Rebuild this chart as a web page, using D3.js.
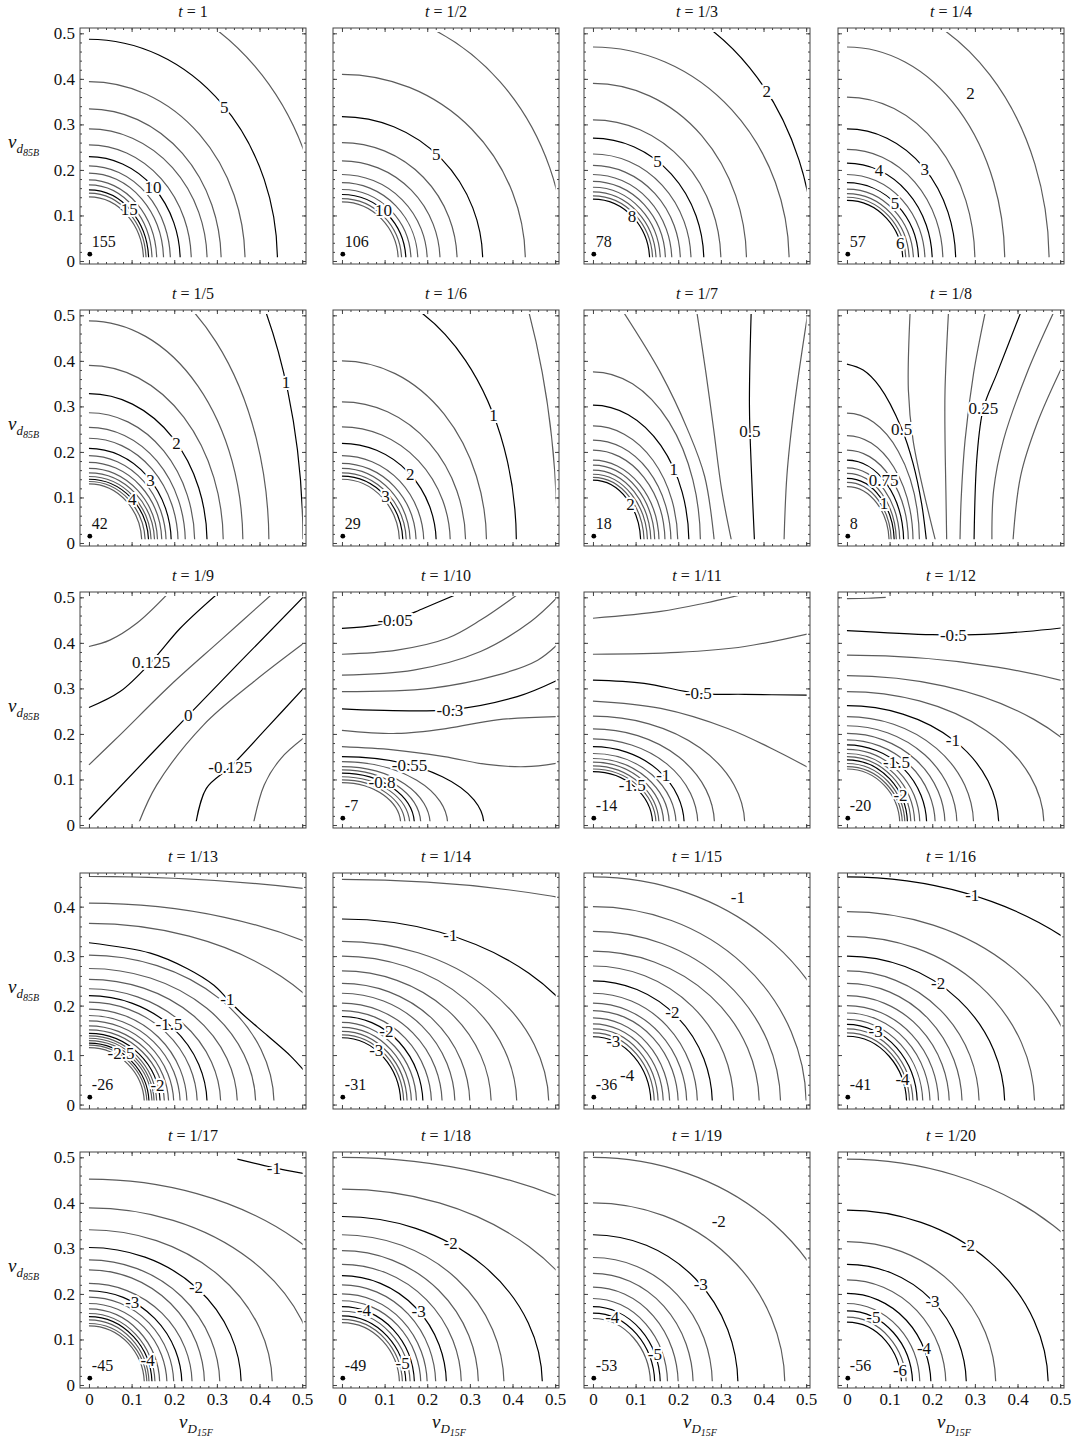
<!DOCTYPE html>
<html>
<head>
<meta charset="utf-8">
<script src="https://cdn.jsdelivr.net/npm/d3@7"></script>
<style>
  body { margin: 0; background: #fff; }
  text { font-family: "Liberation Serif", "Times New Roman", serif; fill: #111; }
</style>
</head>
<body>
<svg id="chart" width="1079" height="1446"></svg>
<script>
// panel titles (t values)
const titles = ["1", "1/2", "1/3", "1/4", "1/5", "1/6", "1/7", "1/8", "1/9", "1/10",
  "1/11", "1/12", "1/13", "1/14", "1/15", "1/16", "1/17", "1/18", "1/19", "1/20"];

// value printed next to the marked point near the origin
const peakValues = ["155", "106", "78", "57", "42", "29", "18", "8", null, "-7",
  "-14", "-20", "-26", "-31", "-36", "-41", "-45", "-49", "-53", "-56"];
const peakPoint = [0.002, 0.015];

// tick labels
const xTicks = [0, 0.1, 0.2, 0.3, 0.4, 0.5];
const yTicks = [0, 0.1, 0.2, 0.3, 0.4, 0.5];
const yTicksShort = [0, 0.1, 0.2, 0.3, 0.4];

// contour lines shaped like quarter ellipses: [x-intercept, y-intercept]
const arcs = [
  [[0.55, 0.605], [0.442, 0.487], [0.366, 0.394], [0.310, 0.334], [0.277, 0.290], [0.240, 0.255], [0.214, 0.229],
   [0.191, 0.209], [0.175, 0.193], [0.159, 0.178], [0.148, 0.167], [0.140, 0.156], [0.134, 0.149], [0.128, 0.141]],
  [[0.524, 0.557], [0.43, 0.41], [0.33, 0.317], [0.27, 0.26], [0.23, 0.22], [0.2, 0.19], [0.178, 0.172],
   [0.162, 0.157], [0.15, 0.146], [0.14, 0.137], [0.132, 0.13]],
  [[0.52, 0.6], [0.46, 0.47], [0.36, 0.39], [0.3, 0.31], [0.26, 0.27], [0.23, 0.235], [0.205, 0.21], [0.185, 0.19],
   [0.17, 0.175], [0.158, 0.162], [0.148, 0.152], [0.14, 0.143], [0.133, 0.136]],
  [[0.474, 0.578], [0.37, 0.47], [0.3, 0.36], [0.255, 0.29], [0.225, 0.245], [0.2, 0.215], [0.183, 0.19],
   [0.168, 0.172], [0.156, 0.158], [0.146, 0.148], [0.138, 0.14], [0.131, 0.133]],
  [[0.502, 0.90], [0.422, 0.624], [0.361, 0.488], [0.315, 0.390], [0.277, 0.328], [0.248, 0.286], [0.226, 0.254],
   [0.209, 0.230], [0.193, 0.208], [0.181, 0.192], [0.171, 0.177], [0.161, 0.164], [0.154, 0.154], [0.146, 0.146],
   [0.140, 0.140], [0.132, 0.135], [0.124, 0.130]],
  [[0.505, 1.02], [0.409, 0.568], [0.339, 0.400], [0.290, 0.310], [0.254, 0.255], [0.221, 0.219], [0.192, 0.192],
   [0.174, 0.175], [0.160, 0.164], [0.151, 0.154], [0.143, 0.147], [0.135, 0.140]],
  [[0.252, 0.376], [0.225, 0.303], [0.199, 0.257], [0.183, 0.226], [0.169, 0.204], [0.155, 0.182], [0.145, 0.171],
   [0.136, 0.160], [0.128, 0.151], [0.120, 0.144], [0.112, 0.138]],
  [[0.170, 0.285], [0.155, 0.236], [0.144, 0.204], [0.133, 0.182], [0.124, 0.165], [0.116, 0.153], [0.111, 0.142],
   [0.104, 0.133], [0.099, 0.124]],
  [],
  [[0.333, 0.150], [0.248, 0.139], [0.207, 0.128], [0.185, 0.121], [0.170, 0.114], [0.159, 0.106], [0.148, 0.099],
   [0.138, 0.093]],
  [[0.356, 0.239], [0.285, 0.211], [0.246, 0.189], [0.214, 0.172], [0.195, 0.157], [0.179, 0.146], [0.166, 0.138],
   [0.155, 0.130], [0.148, 0.123], [0.140, 0.117]],
  [[0.957, 0.373], [0.62, 0.328], [0.462, 0.293], [0.356, 0.262], [0.297, 0.238], [0.258, 0.218], [0.230, 0.201],
   [0.207, 0.187], [0.187, 0.176], [0.171, 0.166], [0.159, 0.157], [0.150, 0.150], [0.142, 0.143], [0.136, 0.135],
   [0.130, 0.128], [0.124, 0.123]],
  [[1.57, 0.461], [0.864, 0.407], [0.638, 0.366], [0.434, 0.302], [0.391, 0.275], [0.348, 0.253], [0.309, 0.234],
   [0.277, 0.220], [0.254, 0.207], [0.230, 0.193], [0.214, 0.180], [0.199, 0.169], [0.187, 0.159], [0.177, 0.151],
   [0.167, 0.144], [0.159, 0.139], [0.153, 0.134], [0.148, 0.129], [0.141, 0.124], [0.136, 0.120], [0.130, 0.115]],
  [[1.3, 0.455], [0.62, 0.375], [0.485, 0.33], [0.41, 0.3], [0.35, 0.27], [0.30, 0.245], [0.265, 0.225],
   [0.235, 0.205], [0.21, 0.19], [0.19, 0.178], [0.175, 0.166], [0.163, 0.156], [0.153, 0.148], [0.145, 0.141],
   [0.138, 0.135]],
  [[0.6, 0.46], [0.5, 0.4], [0.44, 0.35], [0.39, 0.31], [0.33, 0.28], [0.28, 0.25], [0.245, 0.225], [0.22, 0.205],
   [0.2, 0.19], [0.18, 0.175], [0.165, 0.163], [0.153, 0.153], [0.144, 0.145], [0.136, 0.137]],
  [[0.75, 0.46], [0.55, 0.39], [0.44, 0.34], [0.37, 0.3], [0.31, 0.27], [0.27, 0.245], [0.24, 0.22], [0.215, 0.2],
   [0.195, 0.185], [0.178, 0.172], [0.165, 0.162], [0.155, 0.153], [0.147, 0.145], [0.14, 0.138]],
  [[0.687, 0.452], [0.536, 0.389], [0.430, 0.341], [0.357, 0.302], [0.307, 0.275], [0.271, 0.253], [0.242, 0.223],
   [0.218, 0.207], [0.199, 0.193], [0.183, 0.179], [0.166, 0.167], [0.155, 0.157], [0.148, 0.150], [0.141, 0.143],
   [0.136, 0.135], [0.130, 0.130]],
  [[0.9, 0.5], [0.62, 0.43], [0.47, 0.37], [0.38, 0.33], [0.32, 0.295], [0.28, 0.265], [0.245, 0.24], [0.22, 0.22],
   [0.2, 0.2], [0.185, 0.185], [0.17, 0.172], [0.16, 0.162], [0.15, 0.152], [0.142, 0.144], [0.135, 0.137]],
  [[0.6, 0.5], [0.45, 0.4], [0.34, 0.33], [0.28, 0.28], [0.235, 0.245], [0.2, 0.215], [0.175, 0.19], [0.158, 0.172],
   [0.145, 0.158], [0.135, 0.146]],
  [[0.683, 0.496], [0.472, 0.384], [0.349, 0.315], [0.280, 0.265], [0.232, 0.231], [0.197, 0.201], [0.171, 0.179],
   [0.154, 0.163], [0.139, 0.149], [0.128, 0.138]]
];

// free-form contour lines: lists of [x, y] points
const curves = [
  [], [], [], [], [], [],
  [[[0.073, 0.505], [0.159, 0.373], [0.222, 0.249], [0.262, 0.146], [0.285, 0.0]],
   [[0.244, 0.505], [0.265, 0.373], [0.283, 0.25], [0.302, 0.116], [0.326, 0.0]],
   [[0.371, 0.505], [0.367, 0.3], [0.372, 0.15], [0.379, 0.0]],
   [[0.503, 0.5], [0.472, 0.3], [0.455, 0.15], [0.448, 0.0]]],
  [[[0.0, 0.393], [0.038, 0.38], [0.077, 0.343], [0.128, 0.252], [0.155, 0.175], [0.175, 0.087], [0.187, 0.0]],
   [[0.148, 0.505], [0.144, 0.336], [0.155, 0.226], [0.179, 0.116], [0.209, 0.0]],
   [[0.238, 0.505], [0.230, 0.336], [0.230, 0.226], [0.232, 0.116], [0.234, 0.0]],
   [[0.324, 0.505], [0.297, 0.373], [0.277, 0.226], [0.268, 0.1], [0.265, 0.0]],
   [[0.407, 0.505], [0.352, 0.373], [0.320, 0.296], [0.305, 0.19], [0.298, 0.0]],
   [[0.484, 0.505], [0.422, 0.373], [0.367, 0.226], [0.344, 0.116], [0.340, 0.0]],
   [[0.505, 0.388], [0.446, 0.263], [0.407, 0.146], [0.389, 0.0]]],
  [[[0.0, 0.392], [0.049, 0.406], [0.112, 0.443], [0.182, 0.505]],
   [[0.0, 0.258], [0.073, 0.293], [0.147, 0.359], [0.214, 0.432], [0.298, 0.505]],
   [[0.0, 0.132], [0.073, 0.198], [0.191, 0.307], [0.309, 0.406], [0.427, 0.505]],
   [[0.0, 0.012], [0.234, 0.242], [0.505, 0.503]],
   [[0.115, 0.0], [0.159, 0.088], [0.269, 0.22], [0.387, 0.315], [0.505, 0.4]],
   [[0.250, 0.0], [0.275, 0.08], [0.332, 0.128], [0.419, 0.215], [0.505, 0.302]],
   [[0.385, 0.0], [0.411, 0.088], [0.45, 0.146], [0.505, 0.192]]],
  [[[0.0, 0.432], [0.082, 0.439], [0.125, 0.45], [0.192, 0.476], [0.265, 0.505]],
   [[0.0, 0.375], [0.129, 0.384], [0.247, 0.41], [0.325, 0.45], [0.41, 0.505]],
   [[0.0, 0.329], [0.168, 0.34], [0.325, 0.381], [0.443, 0.447], [0.505, 0.5]],
   [[0.0, 0.293], [0.207, 0.30], [0.364, 0.329], [0.459, 0.362], [0.505, 0.396]],
   [[0.0, 0.255], [0.254, 0.253], [0.411, 0.282], [0.505, 0.318]],
   [[0.0, 0.208], [0.129, 0.201], [0.247, 0.212], [0.364, 0.231], [0.505, 0.238]],
   [[0.0, 0.172], [0.12, 0.165], [0.24, 0.15], [0.34, 0.133], [0.43, 0.128], [0.505, 0.136]]],
  [[[0.0, 0.454], [0.159, 0.469], [0.261, 0.487], [0.345, 0.505]],
   [[0.0, 0.375], [0.199, 0.379], [0.356, 0.392], [0.505, 0.42]],
   [[0.0, 0.318], [0.12, 0.311], [0.246, 0.289], [0.356, 0.287], [0.505, 0.285]],
   [[0.0, 0.272], [0.159, 0.256], [0.316, 0.212], [0.434, 0.161], [0.505, 0.126]]],
  [[[0.0, 0.497], [0.05, 0.498], [0.091, 0.5]],
   [[0.0, 0.427], [0.2, 0.418], [0.3, 0.418], [0.42, 0.425], [0.505, 0.433]]],
  [[[0.0, 0.327], [0.144, 0.306], [0.23, 0.275], [0.293, 0.241], [0.324, 0.214], [0.356, 0.186], [0.419, 0.139],
    [0.473, 0.098], [0.505, 0.068]]],
  [], [], [],
  [[[0.348, 0.496], [0.43, 0.478], [0.505, 0.464]]],
  [], [], []
];

// contour labels: [x, y, text]
const contourLabels = [
  [[0.309, 0.332, "5"], [0.148, 0.160, "10"], [0.095, 0.114, "15"]],
  [[0.21, 0.222, "5"], [0.1, 0.112, "10"]],
  [[0.40, 0.369, "2"], [0.155, 0.222, "5"], [0.087, 0.095, "8"]],
  [[0.29, 0.369, "2"], [0.184, 0.204, "3"], [0.073, 0.196, "4"], [0.108, 0.125, "5"], [0.125, 0.04, "6"]],
  [[0.455, 0.351, "1"], [0.203, 0.217, "2"], [0.140, 0.137, "3"], [0.104, 0.098, "4"]],
  [[0.341, 0.277, "1"], [0.159, 0.149, "2"], [0.101, 0.102, "3"]],
  [[0.37, 0.245, "0.5"], [0.185, 0.160, "1"], [0.085, 0.083, "2"]],
  [[0.128, 0.252, "0.5"], [0.320, 0.296, "0.25"], [0.085, 0.138, "0.75"], [0.085, 0.089, "1"]],
  [[0.147, 0.359, "0.125"], [0.234, 0.242, "0"], [0.332, 0.128, "-0.125"]],
  [[0.125, 0.45, "-0.05"], [0.254, 0.253, "-0.3"], [0.16, 0.132, "-0.55"], [0.093, 0.092, "-0.8"]],
  [[0.246, 0.289, "-0.5"], [0.174, 0.117, "-1"], [0.093, 0.088, "-1.5"]],
  [[0.25, 0.417, "-0.5"], [0.242, 0.179, "-1"], [0.12, 0.143, "-1.5"], [0.124, 0.067, "-2"]],
  [[0.324, 0.214, "-1"], [0.183, 0.159, "-1.5"], [0.077, 0.105, "-2.5"], [0.163, 0.041, "-2"]],
  [[0.25, 0.33, "-1"], [0.105, 0.15, "-2"], [0.065, 0.095, "-3"]],
  [[0.34, 0.42, "-1"], [0.2, 0.2, "-2"], [0.045, 0.12, "-3"], [0.08, 0.06, "-4"]],
  [[0.3, 0.44, "-1"], [0.22, 0.25, "-2"], [0.07, 0.15, "-3"], [0.13, 0.05, "-4"]],
  [[0.434, 0.478, "-1"], [0.242, 0.207, "-2"], [0.1, 0.178, "-3"], [0.14, 0.057, "-4"]],
  [[0.26, 0.32, "-2"], [0.19, 0.17, "-3"], [0.05, 0.16, "-4"], [0.145, 0.05, "-5"]],
  [[0.295, 0.36, "-2"], [0.25, 0.22, "-3"], [0.045, 0.15, "-4"], [0.15, 0.07, "-5"]],
  [[0.276, 0.296, "-2"], [0.193, 0.176, "-3"], [0.185, 0.081, "-4"], [0.059, 0.146, "-5"], [0.118, 0.03, "-6"]]
];

// ---- layout ----
const colLeft = [80, 333, 584, 838];
const rowTop = [28, 310, 592, 873, 1152];
const panelW = 226, panelH = 236;
const grayLine = "#5c5c5c", darkLine = "#000";
const fmt = d => d === 0 ? "0" : d3.format(".1f")(d);

const svg = d3.select("#chart");

titles.forEach((title, i) => {
  const r = Math.floor(i / 4), c = i % 4;
  const short = r === 3;           // the 4th row stops near 0.46
  const x0 = colLeft[c], y0 = rowTop[r];
  const x = d3.scaleLinear().domain([-0.021, 0.509]).range([x0, x0 + panelW]);
  const y = d3.scaleLinear()
    .domain(short ? [-0.009, 0.468] : [-0.0066, 0.5117])
    .range([y0 + panelH, y0]);
  const yTop = short ? 0.462 : 0.503;

  const g = svg.append("g");

  // clip to the region where contours are drawn
  const clipId = "clip" + i;
  svg.append("clipPath").attr("id", clipId).append("rect")
    .attr("x", x(-0.003)).attr("y", y(yTop))
    .attr("width", x(0.5) - x(-0.003) + 0.5).attr("height", y(0.008) - y(yTop));

  const cg = g.append("g").attr("clip-path", `url(#${clipId})`);

  const line = d3.line().x(d => x(d[0])).y(d => y(d[1])).curve(d3.curveCatmullRom.alpha(0.5));
  const arcPath = d => {
    const rx = x(d[0]) - x(0), ry = y(0) - y(d[1]);
    return `M${x(d[0])},${y(0)} A${rx},${ry} 0 0 0 ${x(0)},${y(d[1])}`;
  };

  const paths = [];
  arcs[i].forEach(a => paths.push(cg.append("path").attr("d", arcPath(a))));
  curves[i].forEach(pts => paths.push(cg.append("path").attr("d", line(pts))));
  paths.forEach(p => p.attr("fill", "none").attr("stroke", grayLine).attr("stroke-width", 1.2));

  // sample every path, keep points inside the visible region
  const cx0 = x(-0.003), cx1 = x(0.5) + 0.5, cy0 = y(yTop), cy1 = y(0.008);
  const samples = paths.map(p => {
    const node = p.node(), len = node.getTotalLength(), pts = [];
    for (let s = 0; s <= len; s += 1.5) {
      const q = node.getPointAtLength(s);
      if (q.x >= cx0 && q.x <= cx1 && q.y >= cy0 && q.y <= cy1) pts.push(q);
    }
    return pts;
  });

  // contour labels snap to the nearest line, which is drawn dark
  contourLabels[i].forEach(([lx, ly, txt]) => {
    let px = x(lx), py = y(ly), best = Infinity, bestK = -1, bp = null;
    samples.forEach((pts, k) => pts.forEach(q => {
      const dd = (q.x - px) ** 2 + (q.y - py) ** 2;
      if (dd < best) { best = dd; bestK = k; bp = q; }
    }));
    if (bestK >= 0 && best < 100) {
      paths[bestK].attr("stroke", darkLine);
      px = bp.x; py = bp.y;
    }
    g.append("text")
      .attr("x", px).attr("y", py).attr("dy", "0.35em")
      .attr("text-anchor", "middle").attr("font-size", 17)
      .attr("stroke", "#fff").attr("stroke-width", 4).attr("paint-order", "stroke")
      .text(txt);
  });

  // peak marker
  if (peakValues[i] !== null) {
    g.append("circle").attr("cx", x(peakPoint[0])).attr("cy", y(peakPoint[1])).attr("r", 2.4).attr("fill", "#000");
    g.append("text").attr("x", x(peakPoint[0]) + 2).attr("y", y(peakPoint[1]) - 7)
      .attr("font-size", 16).text(peakValues[i]);
  }

  // frame ticks on all four sides, pointing inward
  const yt = short ? yTicksShort : yTicks;
  const minorX = d3.range(0, 0.5001, 0.02);
  const minorY = d3.range(0, (short ? 0.4601 : 0.5001), 0.02);
  const axes = [
    [d3.axisBottom(x), `translate(0,${y0 + panelH})`, xTicks, minorX, r === 4],
    [d3.axisTop(x), `translate(0,${y0})`, xTicks, minorX, false],
    [d3.axisLeft(y), `translate(${x0},0)`, yt, minorY, c === 0],
    [d3.axisRight(y), `translate(${x0 + panelW},0)`, yt, minorY, false]
  ];
  axes.forEach(([ax, tr, major, minor, labelled]) => {
    const gm = g.append("g").attr("transform", tr)
      .call(ax.tickValues(minor).tickSizeInner(-2).tickSizeOuter(0).tickFormat(""));
    gm.select(".domain").remove();
    gm.selectAll("line").attr("stroke", "#444");
    const gM = g.append("g").attr("transform", tr)
      .call(ax.tickValues(major).tickSizeInner(-4).tickSizeOuter(0).tickPadding(5)
        .tickFormat(labelled ? fmt : ""));
    gM.select(".domain").remove();
    gM.attr("font-family", null).attr("font-size", null);
    gM.selectAll("line").attr("stroke", "#444");
    gM.selectAll("text").attr("font-size", 17).attr("fill", "#111");
  });

  g.append("rect").attr("x", x0).attr("y", y0).attr("width", panelW).attr("height", panelH)
    .attr("fill", "none").attr("stroke", "#444").attr("stroke-width", 1);

  // title
  const tt = g.append("text").attr("x", x0 + panelW / 2).attr("y", y0 - 11)
    .attr("text-anchor", "middle").attr("font-size", 16);
  tt.append("tspan").attr("font-style", "italic").text("t");
  tt.append("tspan").text(" = " + title);

  // y axis title
  if (c === 0) {
    const yl = g.append("text").attr("x", 8).attr("y", y0 + 120).attr("font-size", 19);
    yl.append("tspan").attr("font-style", "italic").text("v");
    yl.append("tspan").attr("font-style", "italic").attr("font-size", 13).attr("dy", 5).text("d");
    yl.append("tspan").attr("font-style", "italic").attr("font-size", 10).attr("dy", 3).text("85B");
  }
  // x axis title
  if (r === 4) {
    const xl = g.append("text").attr("x", x0 + panelW / 2 - 14).attr("y", y0 + panelH + 40).attr("font-size", 19);
    xl.append("tspan").attr("font-style", "italic").text("v");
    xl.append("tspan").attr("font-style", "italic").attr("font-size", 13).attr("dy", 5).text("D");
    xl.append("tspan").attr("font-style", "italic").attr("font-size", 10).attr("dy", 3).text("15F");
  }
});
</script>
</body>
</html>
